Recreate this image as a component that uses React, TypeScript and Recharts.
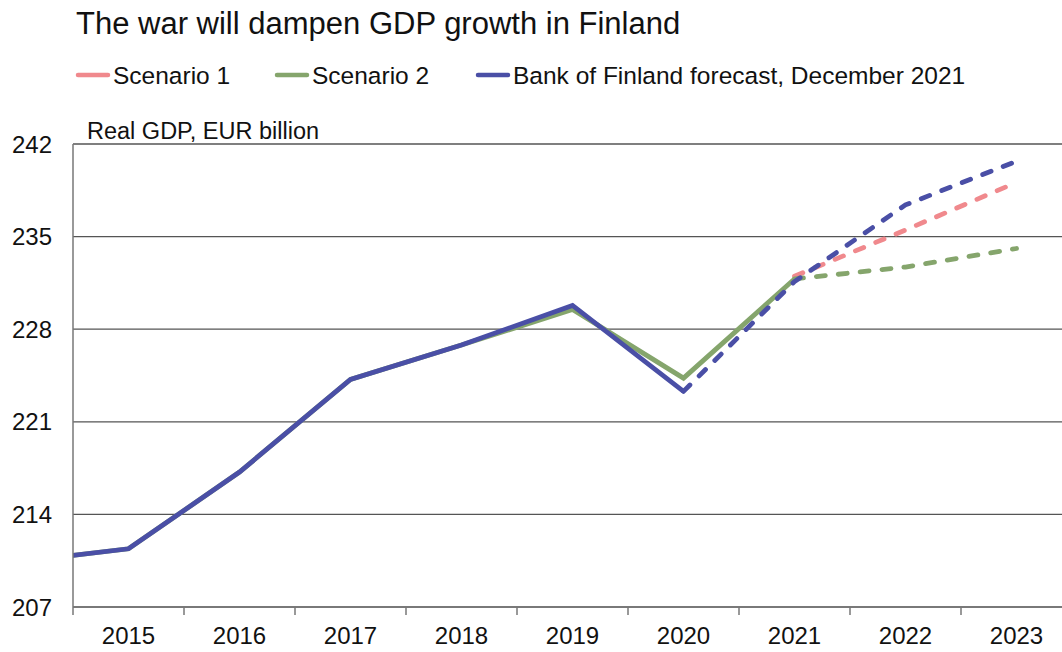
import { CartesianGrid, Line, LineChart, XAxis, YAxis } from "recharts"

// Real GDP, EUR billion (2014 only enters the plot at its left edge)
const years = [2014, 2015, 2016, 2017, 2018, 2019, 2020, 2021, 2022, 2023]
const bofHistory = [210.4, 211.4, 217.2, 224.2, 226.8, 229.8, 223.3, null, null, null]
const bofForecast = [null, null, null, null, null, null, 223.3, 231.6, 237.4, 240.7]
const scen2History = [210.4, 211.4, 217.2, 224.2, 226.8, 229.5, 224.3, 231.8, null, null]
const scen2Forecast = [null, null, null, null, null, null, null, 231.8, 232.7, 234.1]
const scen1Forecast = [null, null, null, null, null, null, null, 232.0, 235.5, 239.1]

const yearLabels = [2015, 2016, 2017, 2018, 2019, 2020, 2021, 2022, 2023]
const yTicks = [207, 214, 221, 228, 235, 242]

const legendItems = [
  { name: "Scenario 1", color: "#f0898d", x: 76 },
  { name: "Scenario 2", color: "#85a56c", x: 275 },
  { name: "Bank of Finland forecast, December 2021", color: "#4a4fa6", x: 476 },
]

const BLUE = "#4a4fa6"
const GREEN = "#85a56c"
const PINK = "#f0898d"
const FONT = "'Liberation Sans', Arial, sans-serif"
const LINE_W = 4.8
const DASH = "9 13"

const data = years.map((year, i) => ({
  year,
  bofHistory: bofHistory[i],
  bofForecast: bofForecast[i],
  scen2History: scen2History[i],
  scen2Forecast: scen2Forecast[i],
  scen1Forecast: scen1Forecast[i],
}))

// labels at year centres, small tick marks at the boundaries between years
const xTicks = [
  ...yearLabels.map((y) => y - 0.5),
  yearLabels[yearLabels.length - 1] + 0.5,
  ...yearLabels,
].sort((a, b) => a - b)

function YearTick(props: any) {
  const { x, y, payload } = props
  const v = payload.value
  if (v % 1 !== 0) {
    return <line x1={x} x2={x} y1={y} y2={y + 8} stroke="#777" strokeWidth={1.5} />
  }
  return (
    <text x={x} y={y + 37} textAnchor="middle" fontSize={24} fill="#111" fontFamily={FONT}>
      {v}
    </text>
  )
}

export default function App() {
  return (
    <div
      style={{
        position: "absolute",
        left: 0,
        top: 0,
        width: 1062,
        height: 652,
        overflow: "hidden",
        background: "#fff",
        fontFamily: FONT,
      }}
    >
      <svg width={1062} height={150} style={{ position: "absolute", left: 0, top: 0 }}>
        <text x={76} y={34} fontSize={31} fill="#111" fontFamily={FONT}>
          The war will dampen GDP growth in Finland
        </text>
        {legendItems.map((item) => (
          <g key={item.name}>
            <line
              x1={item.x + 2}
              x2={item.x + 32}
              y1={75}
              y2={75}
              stroke={item.color}
              strokeWidth={4.5}
              strokeLinecap="round"
            />
            <text x={item.x + 37} y={84} fontSize={24.5} fill="#111" fontFamily={FONT}>
              {item.name}
            </text>
          </g>
        ))}
        <text x={87} y={139} fontSize={23.5} fill="#111" fontFamily={FONT}>
          Real GDP, EUR billion
        </text>
      </svg>
      <LineChart width={1090} height={652} data={data} margin={{ top: 144, right: 18, bottom: 0, left: 0 }}>
        <CartesianGrid vertical={false} stroke="#555" strokeWidth={1.3} />
        <XAxis
          dataKey="year"
          type="number"
          domain={[2014.5, 2023.5]}
          allowDataOverflow
          ticks={xTicks}
          interval={0}
          tick={<YearTick />}
          tickLine={false}
          tickSize={0}
          tickMargin={0}
          height={45}
          stroke="#777"
          strokeWidth={1.5}
        />
        <YAxis
          domain={[207, 242]}
          ticks={yTicks}
          interval={0}
          width={73}
          tickLine={false}
          tickSize={0}
          tickMargin={21}
          tick={{ fontSize: 24, fill: "#111", fontFamily: FONT }}
          stroke="#777"
          strokeWidth={1.5}
        />
        <Line
          dataKey="scen1Forecast"
          stroke={PINK}
          strokeWidth={LINE_W}
          strokeDasharray={DASH}
          strokeLinecap="round"
          dot={false}
          activeDot={false}
          isAnimationActive={false}
        />
        <Line
          dataKey="scen2History"
          stroke={GREEN}
          strokeWidth={LINE_W}
          dot={false}
          activeDot={false}
          isAnimationActive={false}
        />
        <Line
          dataKey="scen2Forecast"
          stroke={GREEN}
          strokeWidth={LINE_W}
          strokeDasharray={DASH}
          strokeLinecap="round"
          dot={false}
          activeDot={false}
          isAnimationActive={false}
        />
        <Line
          dataKey="bofHistory"
          stroke={BLUE}
          strokeWidth={LINE_W}
          dot={false}
          activeDot={false}
          isAnimationActive={false}
        />
        <Line
          dataKey="bofForecast"
          stroke={BLUE}
          strokeWidth={LINE_W}
          strokeDasharray={DASH}
          strokeLinecap="round"
          dot={false}
          activeDot={false}
          isAnimationActive={false}
        />
      </LineChart>
    </div>
  )
}
